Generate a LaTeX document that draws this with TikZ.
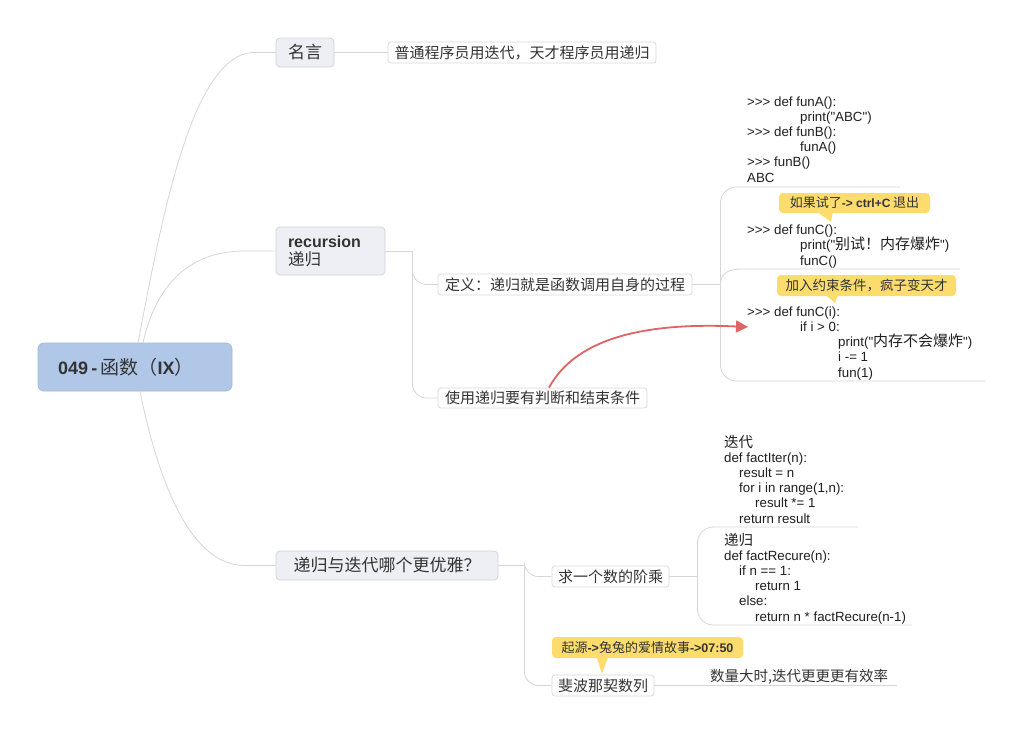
\documentclass[tikz,border=0pt]{standalone}
\usepackage{fontspec}
\setmainfont{Liberation Sans}[Ligatures=TeXOff]
\newfontfamily\cjk{Noto Sans CJK SC}
\usetikzlibrary{calc,arrows.meta}
\definecolor{rootfill}{HTML}{B0C7E8}
\definecolor{rootdraw}{HTML}{A2BADC}
\definecolor{mainfill}{HTML}{EEEEF5}
\definecolor{maindraw}{HTML}{D3D3DD}
\definecolor{subdraw}{HTML}{DADADA}
\definecolor{connc}{HTML}{D6D6D6}
\definecolor{callc}{HTML}{FDDC6E}
\definecolor{redc}{HTML}{E06464}
\definecolor{txt}{HTML}{333333}
\newcommand\zh[1]{{\cjk #1}}
\newcommand\fs[1]{\fontsize{#1}{#1}\selectfont}
\newcommand\codefont{\fontsize{13.3}{15.2}\selectfont}
\tikzset{
  rootbox/.style={draw=rootdraw, fill=rootfill, rounded corners=6, line width=0.8, text=txt},
  mainbox/.style={draw=maindraw, fill=mainfill, rounded corners=4, line width=0.8, text=txt},
  subbox/.style={draw=subdraw, fill=white, rounded corners=3, line width=0.8, text=txt},
  callbox/.style={fill=callc, rounded corners=4, text=txt, inner sep=0},
  callptr/.style={fill=callc},
  conn/.style={draw=connc, line width=0.8},
  codeblk/.style={inner sep=0, anchor=base west, align=left, text=black!88, font=\codefont},
  redarrow/.style={draw=redc, line width=1.8, -{Triangle[length=12,width=12]}},
}
\begin{document}
\setlength{\lineskiplimit}{-50pt}
\begin{tikzpicture}[x=1pt,y=-1pt]
\useasboundingbox[fill=white] (0,0) rectangle (1023,734);

% main nodes
\node[rootbox, minimum height=48, text width=154, inner xsep=20, inner ysep=0, align=left] (root) at (135,367)
  {\fs{18}\textbf{049 -}\ \zh{\fs{19}函数（}\textbf{IX}\zh{\fs{19}）}};
\node[mainbox, minimum width=58, minimum height=29, inner sep=0] (mingyan) at (305,52.5)
  {\zh{\fs{17}名言}};
\node[subbox, minimum width=268, minimum height=21, inner sep=0] (quote) at (522,52.5)
  {\zh{\fs{15}普通程序员用迭代，天才程序员用递归}};
\node[mainbox, minimum height=48, text width=85, inner xsep=12, inner ysep=0, align=left,
  font=\fontsize{16}{18}\selectfont] (rec) at (330.5,251)
  {\textbf{recursion}\\\zh{\fs{16.5}递归}};
\node[subbox, minimum width=254, minimum height=21, inner sep=0] (def) at (565,284.5)
  {\zh{\fs{15}定义：递归就是函数调用自身的过程}};
\node[subbox, minimum width=209, minimum height=20, inner sep=0] (use) at (542.5,398)
  {\zh{\fs{15}使用递归要有判断和结束条件}};
\node[mainbox, minimum width=222, minimum height=29, inner sep=0] (eleg) at (387,565.5)
  {\zh{\fs{17}递归与迭代哪个更优雅？}};
\node[subbox, minimum width=117, minimum height=21, inner sep=0] (fact) at (610.5,576.5)
  {\zh{\fs{15}求一个数的阶乘}};
\node[subbox, minimum width=102, minimum height=21, inner sep=0] (fib) at (603,685.5)
  {\zh{\fs{15}斐波那契数列}};
\node[inner sep=0, anchor=base west, text=txt] (fibnote) at (710,681)
  {\zh{\fs{14.5}数量大时,迭代更更更有效率}};

% code blocks (anchored at the baseline of their last line)
\node[codeblk] (codeA) at (747,182)
  {>>> def funA():\\
   \hspace*{53pt}print("ABC")\\
   >>> def funB():\\
   \hspace*{53pt}funA()\\
   >>> funB()\\
   ABC};
\node[codeblk] (codeB) at (747,265)
  {>>> def funC():\\
   \hspace*{53pt}print("\zh{\fs{15}别试！内存爆炸}")\\
   \hspace*{53pt}funC()};
\node[codeblk] (codeC) at (747,377)
  {>>> def funC(i):\\
   \hspace*{53pt}if i > 0:\\
   \hspace*{91pt}print("\zh{\fs{15}内存不会爆炸}")\\
   \hspace*{91pt}i -= 1\\
   \hspace*{91pt}fun(1)};
\node[codeblk] (iterA) at (724,523)
  {\zh{\fs{14.5}迭代}\\
   def factIter(n):\\
   \hspace*{15pt}result = n\\
   \hspace*{15pt}for i in range(1,n):\\
   \hspace*{31pt}result *= 1\\
   \hspace*{15pt}return result};
\node[codeblk] (recB) at (724,621)
  {\zh{\fs{14.5}递归}\\
   def factRecure(n):\\
   \hspace*{15pt}if n == 1:\\
   \hspace*{31pt}return 1\\
   \hspace*{15pt}else:\\
   \hspace*{31pt}return n * factRecure(n-1)};

% callouts
\node[callbox, minimum width=151, minimum height=20] (c1) at (854.5,203)
  {\zh{\fs{13}如果试了}\textbf{\fs{12}-> ctrl+C} \zh{\fs{13}退出}};
\fill[callptr] ($(c1.south west)+(39,-1)$) -- (831,222) -- ($(c1.south west)+(54,-1)$) -- cycle;
\node[callbox, minimum width=179, minimum height=21] (c2) at (866.5,285.5)
  {\zh{\fs{13.5}加入约束条件，疯子变天才}};
\fill[callptr] ($(c2.south west)+(49,-1)$) -- (835,303) -- ($(c2.south west)+(61,-1)$) -- cycle;
\node[callbox, minimum width=191, minimum height=21] (c3) at (647.5,647.5)
  {\zh{\fs{13}起源}\textbf{\fs{12.5}->}\zh{\fs{13}兔兔的爱情故事}\textbf{\fs{12.5}->07:50}};
\fill[callptr] ($(c3.south west)+(45,-1)$) -- (602,674) -- ($(c3.south west)+(56,-1)$) -- cycle;

% free ends
\coordinate (u1) at (900,187);
\coordinate (u2s) at (742,269);
\coordinate (u2) at (960,269);
\coordinate (u3) at (985,381);
\coordinate (u4) at (858,527);
\coordinate (u5) at (912,625);
\coordinate (u6) at (897,685.5);
\coordinate (arrtip) at (748,327);

% connectors
\draw[conn] ($(root.north)+(3,0)$) .. controls (160,230) and (190,52.5) .. ($(mingyan.west)+(-21,0)$) -- (mingyan.west);
\draw[conn] ($(root.north)+(8,0)$) .. controls (155,290) and (185,251) .. ($(rec.west)+(-31,0)$) -- (rec.west);
\draw[conn] ($(root.south)+(5,0)$) .. controls (158,480) and (190,565.5) .. ($(eleg.west)+(-31,0)$) -- (eleg.west);
\draw[conn] (mingyan.east) -- (quote.west);
\draw[conn] (rec.east) -- ++(27,0) coordinate (rj);
\draw[conn, rounded corners=14] (rj) |- (def.west);
\draw[conn, rounded corners=14] (rj) |- (use.west);
\draw[conn] (def.east) -- ++(28,0) coordinate (dj);
\draw[conn, rounded corners=16] (dj) |- (u1);
\draw[conn] (dj) .. controls ($(dj)+(0,-11)$) and ($(u2s)+(-14,0)$) .. (u2s) -- (u2);
\draw[conn, rounded corners=16] (dj) |- (u3);
\draw[conn] (eleg.east) -- ++(26,0) coordinate (ej);
\draw[conn, rounded corners=14] (ej) |- (fact.west);
\draw[conn, rounded corners=14] (ej) |- (fib.west);
\draw[conn] (fact.east) -- ++(28,0) coordinate (fj);
\draw[conn, rounded corners=16] (fj) |- (u4);
\draw[conn, rounded corners=16] (fj) |- (u5);
\draw[conn] (fib.east) -- (u6);

% red arrow
\draw[redarrow] ($(use.north)+(6.5,0)$) .. controls (575,340) and (640,322) .. (arrtip);
\end{tikzpicture}
\end{document}
